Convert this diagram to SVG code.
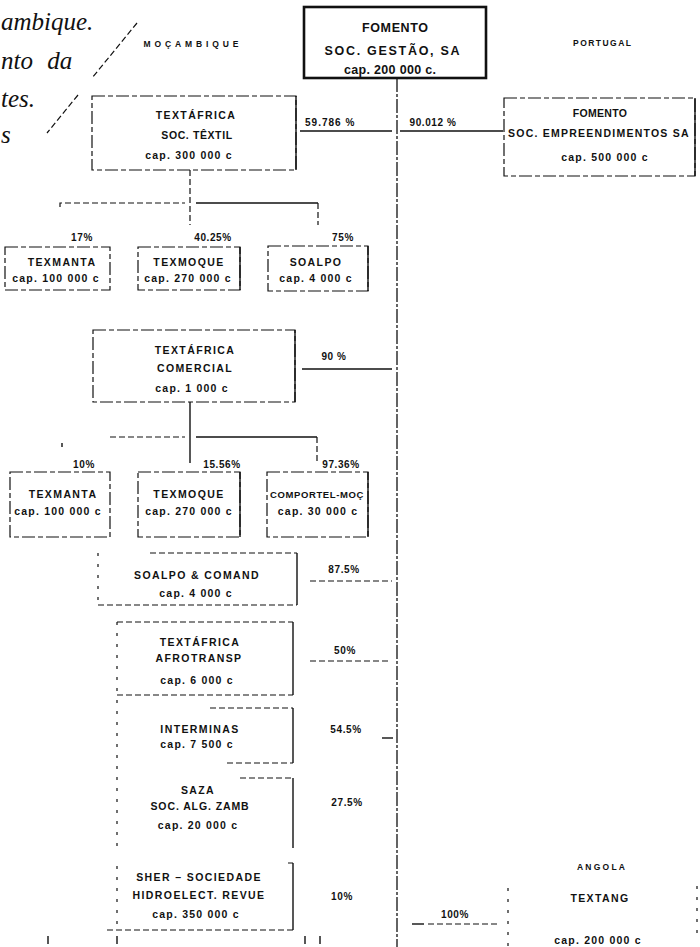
<svg xmlns="http://www.w3.org/2000/svg" width="700" height="947" viewBox="0 0 700 947">
<style>
  .t { font-family: "Liberation Sans", Arial, sans-serif; font-weight: bold; font-size: 10.5px; letter-spacing: 1.4px; fill: #111; text-anchor: middle; }
  .c { letter-spacing: 1.2px; }
  .p { font-family: "Liberation Sans", Arial, sans-serif; font-weight: bold; font-size: 10px; letter-spacing: 0.6px; fill: #111; text-anchor: middle; }
  .big { font-family: "Liberation Sans", Arial, sans-serif; font-weight: bold; font-size: 12.5px; fill: #111; text-anchor: middle; }
  .reg { font-family: "Liberation Sans", Arial, sans-serif; font-weight: bold; font-size: 8.5px; letter-spacing: 2px; fill: #111; text-anchor: middle; }
  .it { font-family: "Liberation Serif", "Times New Roman", serif; font-style: italic; font-size: 25px; fill: #111; }
  .bx { fill: none; stroke: #111; stroke-width: 1.2; stroke-dasharray: 13 3 5 3; }
  .sol { fill: none; stroke: #111; stroke-width: 1.4; }
  .ds { fill: none; stroke: #111; stroke-width: 1.2; stroke-dasharray: 6 3; }
  .sp { fill: none; stroke: #111; stroke-width: 1.2; stroke-dasharray: 3 8; }
  .main { fill: none; stroke: #111; stroke-width: 1.3; stroke-dasharray: 14 2 3 2; }
</style>

<g id="intro-text">
  <text class="it" x="1" y="30">ambique.</text>
  <text class="it" x="1" y="69" word-spacing="8">nto da</text>
  <text class="it" x="1" y="107">tes.</text>
  <text class="it" x="1" y="143">s</text>
  <path class="ds" d="M137 23 L92 78 M78 95 L47 133" stroke-dasharray="5 4"/>
</g>

<g id="region-labels">
  <text class="reg" x="192" y="47" textLength="97">MOÇAMBIQUE</text>
  <text class="reg" x="603" y="46" textLength="60">PORTUGAL</text>
  <text class="reg" x="602" y="870" textLength="50">ANGOLA</text>
</g>

<g id="connectors">
  <path class="main" d="M397 78 V947"/>
  <path class="sol" d="M300 131 H392"/>
  <path class="sol" d="M400 131 H503"/>
  <path class="ds" d="M190 170 V225"/>
  <path class="ds" d="M60 207 V203 H185"/>
  <path class="sol" d="M196 203 H318"/>
  <path class="ds" d="M318 203 V225"/>
  <path class="sol" d="M302 369 H392"/>
  <path class="sol" d="M190 402 V463"/>
  <path class="ds" d="M110 437 H185"/>
  <path class="sol" d="M196 437 H317"/>
  <path class="ds" d="M317 437 V462"/>
  <path class="sol" d="M62 443 V447"/>
  <path class="ds" d="M310 581 H392"/>
  <path class="ds" d="M310 661 H390"/>
  <path class="sol" d="M382 738 H393"/>
  <path class="sol" d="M412 924 H424"/>
  <path class="ds" d="M428 924 H500"/>
  <path class="sol" d="M48 936 V944 M117 936 V944 M305 936 V944 M320 936 V944"/>
</g>

<g id="pct-labels">
  <text class="p" x="330" y="126" textLength="50">59.786 %</text>
  <text class="p" x="433" y="126" textLength="47">90.012 %</text>
  <text class="p" x="82" y="241">17%</text>
  <text class="p" x="213" y="241">40.25%</text>
  <text class="p" x="343" y="241">75%</text>
  <text class="p" x="334" y="360">90 %</text>
  <text class="p" x="84" y="468">10%</text>
  <text class="p" x="222" y="468">15.56%</text>
  <text class="p" x="341" y="468">97.36%</text>
  <text class="p" x="344" y="573">87.5%</text>
  <text class="p" x="345" y="654">50%</text>
  <text class="p" x="346" y="733">54.5%</text>
  <text class="p" x="347" y="806">27.5%</text>
  <text class="p" x="342" y="900">10%</text>
  <text class="p" x="455" y="918">100%</text>
</g>

<g id="fomento-gestao">
  <rect x="304" y="7" width="182" height="71" fill="#fff" stroke="#111" stroke-width="2.6"/>
  <text class="big" x="395" y="32" textLength="66">FOMENTO</text>
  <text class="big" x="392" y="55" textLength="135">SOC. GESTÃO, SA</text>
  <text class="big" x="390" y="74" textLength="92">cap. 200 000 c.</text>
</g>

<g id="fomento-empreendimentos">
  <rect class="bx" x="504" y="98" width="191" height="78"/>
  <path class="sol" d="M695 98 V176"/>
  <text class="t" x="600" y="117" style="letter-spacing:0.3px">FOMENTO</text>
  <text class="t" x="599" y="137" textLength="182">SOC. EMPREENDIMENTOS SA</text>
  <text class="t c" x="605" y="161">cap. 500 000 c</text>
</g>

<g id="textafrica-textil">
  <rect class="bx" x="92" y="96" width="204" height="74"/>
  <path class="sol" d="M296 96 V170"/>
  <text class="t" x="196" y="119">TEXTÁFRICA</text>
  <text class="t" x="197" y="139" style="letter-spacing:0.6px">SOC. TÊXTIL</text>
  <text class="t c" x="189" y="159">cap. 300 000 c</text>
</g>

<g id="texmanta-1">
  <rect class="bx" x="5" y="247" width="105" height="43"/>
  <text class="t" x="62" y="266">TEXMANTA</text>
  <text class="t c" x="56" y="282">cap. 100 000 c</text>
</g>
<g id="texmoque-1">
  <rect class="bx" x="138" y="247" width="102" height="43"/>
  <path class="sol" d="M240 247 V290"/>
  <text class="t" x="189" y="266">TEXMOQUE</text>
  <text class="t c" x="188" y="282">cap. 270 000 c</text>
</g>
<g id="soalpo-1">
  <rect class="bx" x="268" y="246" width="100" height="45"/>
  <path class="sol" d="M368 246 V291"/>
  <text class="t" x="316" y="266">SOALPO</text>
  <text class="t c" x="316" y="282">cap. 4 000 c</text>
</g>

<g id="textafrica-comercial">
  <rect class="bx" x="93" y="330" width="202" height="72"/>
  <path class="sol" d="M295 330 V402"/>
  <text class="t" x="195" y="354">TEXTÁFRICA</text>
  <text class="t" x="195" y="372">COMERCIAL</text>
  <text class="t c" x="192" y="392">cap. 1 000 c</text>
</g>

<g id="texmanta-2">
  <rect class="bx" x="10" y="472" width="100" height="65"/>
  <text class="t" x="63" y="498">TEXMANTA</text>
  <text class="t c" x="58" y="515">cap. 100 000 c</text>
</g>
<g id="texmoque-2">
  <rect class="bx" x="138" y="472" width="102" height="65"/>
  <path class="sol" d="M240 472 V537"/>
  <text class="t" x="189" y="498">TEXMOQUE</text>
  <text class="t c" x="189" y="515">cap. 270 000 c</text>
</g>
<g id="comportel-moc">
  <rect class="bx" x="267" y="472" width="101" height="65"/>
  <path class="sol" d="M368 472 V537"/>
  <text class="t" x="317" y="498" style="font-size:9.5px;letter-spacing:0.6px">COMPORTEL-MOÇ</text>
  <text class="t c" x="318" y="515">cap. 30 000 c</text>
</g>

<g id="soalpo-comand">
  <path class="sp" d="M98 553 V605"/>
  <path class="ds" d="M150 553 H297 M98 605 H297"/>
  <path class="sol" d="M297 553 V605"/>
  <text class="t" x="197" y="579">SOALPO &amp; COMAND</text>
  <text class="t c" x="196" y="597">cap. 4 000 c</text>
</g>

<g id="textafrica-afrotransp">
  <path class="sp" d="M117 622 V695"/>
  <path class="ds" d="M117 622 H293 M117 695 H293"/>
  <path class="sol" d="M293 622 V695"/>
  <text class="t" x="200" y="646">TEXTÁFRICA</text>
  <text class="t" x="199" y="662">AFROTRANSP</text>
  <text class="t c" x="197" y="684">cap. 6 000 c</text>
</g>

<g id="interminas">
  <path class="sp" d="M117 700 V763"/>
  <path class="ds" d="M210 708 H293 M227 763 H293"/>
  <path class="sol" d="M293 708 V763"/>
  <text class="t" x="200" y="733">INTERMINAS</text>
  <text class="t c" x="197" y="748">cap. 7 500 c</text>
</g>

<g id="saza">
  <path class="sp" d="M117 766 V848"/>
  <path class="ds" d="M240 778 H293"/>
  <path class="sol" d="M293 778 V848"/>
  <text class="t" x="198" y="794">SAZA</text>
  <text class="t" x="200" y="810" style="letter-spacing:0.9px">SOC. ALG. ZAMB</text>
  <text class="t c" x="198" y="829">cap. 20 000 c</text>
</g>

<g id="sher">
  <path class="sp" d="M117 866 V930"/>
  <path class="ds" d="M288 863 H293 M107 930 H293"/>
  <path class="sol" d="M293 863 V930"/>
  <text class="t" x="199" y="881">SHER – SOCIEDADE</text>
  <text class="t" x="199" y="899">HIDROELECT. REVUE</text>
  <text class="t c" x="196" y="918">cap. 350 000 c</text>
</g>

<g id="textang">
  <path class="sp" d="M508 888 V947 M697 886 V940"/>
  <text class="t" x="600" y="902">TEXTANG</text>
  <text class="t c" x="598" y="944">cap. 200 000 c</text>
</g>
</svg>
